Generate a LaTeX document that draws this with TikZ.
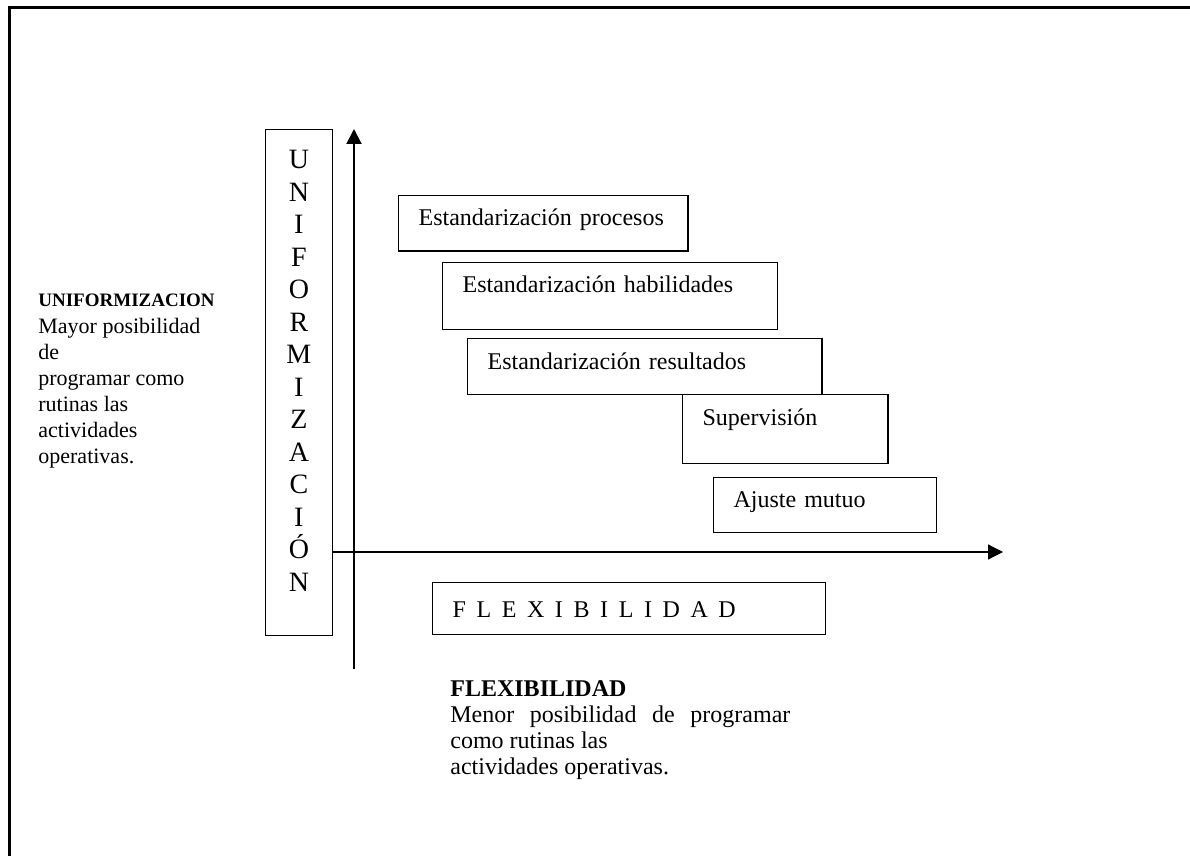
\documentclass[tikz,border=0pt]{standalone}
\usepackage{fontspec}
\setmainfont{Liberation Serif}
\usetikzlibrary{arrows.meta}

\begin{document}
\begin{tikzpicture}[x=0.5pt, y=-0.5pt,
		caja/.style={draw, line width=0.6pt, anchor=north west, inner xsep=10pt, inner ysep=0pt, align=left, font=\fontsize{12}{14}\selectfont},
		eje/.style={-{Triangle[length=7.5pt,width=7.5pt]}}]
	\useasboundingbox (0,0) rectangle (1190,856);
	% marco de la hoja
	\draw[line width=1.5pt] (9,856) -- (9,8) -- (1190,8);

	% columna vertical
	\node[draw, line width=0.6pt, anchor=north west, inner sep=0pt, minimum width=33.3pt, minimum height=253pt, text depth=12pt, align=center, font=\fontsize{14}{16.25}\selectfont] (unif) at (265,129) {U\\N\\I\\F\\O\\R\\M\\I\\Z\\A\\C\\I\\Ó\\N};

	% ejes
	\coordinate (ypie) at (354,669);
	\coordinate (ytope) at (354,129);
	\coordinate (xtope) at (1003,552);
	\draw[eje, line width=1pt] (ypie) -- (ytope);
	\draw[eje, line width=0.6pt] (unif.east |- xtope) -- (xtope);

	% escalones
	\node[caja, text width=124.7pt, text height=15pt, text depth=12.7pt] (procesos) at (398,195) {Estandarización procesos};
	\node[caja, text width=147.35pt, text height=15pt, text depth=18.3pt] (habilidades) at (442,262) {Estandarización habilidades};
	\node[caja, text width=157.2pt, text height=15.35pt, text depth=12.65pt] (resultados) at (467,338) {Estandarización resultados};
	\node[caja, text width=82.65pt, text height=15.35pt, text depth=19.15pt] (supervision) at (682,394) {Supervisión};
	\node[caja, text width=91.5pt, text height=15pt, text depth=12.5pt] (ajuste) at (713,477) {Ajuste mutuo};
	\node[caja, text width=176.3pt, text height=17.2pt, text depth=8.8pt] (flexcaja) at (432,582) {{\spaceskip=5.3pt F L E X I B I L I D A D}};

	% textos
	\node[anchor=north west, inner sep=0pt, align=left, font=\fontsize{11}{13.05}\selectfont] (uniftxt) at (38,294) {{\fontsize{9.5}{13.05}\selectfont\bfseries UNIFORMIZACION}\\Mayor posibilidad\\de\\programar como\\rutinas las\\actividades\\operativas.};
	\node[anchor=north west, inner sep=0pt, align=left, font=\fontsize{12}{13}\selectfont] (flextxt) at (450,680) {\textbf{FLEXIBILIDAD}\\\makebox[170pt][s]{Menor posibilidad de programar}\\como rutinas las\\actividades operativas.};
\end{tikzpicture}
\end{document}
